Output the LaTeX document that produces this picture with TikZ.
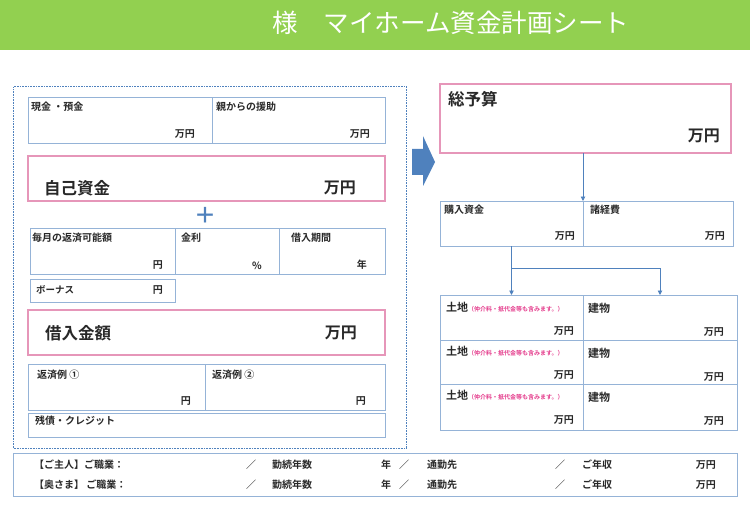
\documentclass[tikz,border=0pt]{standalone}
\usepackage{fontspec}
\usepackage{xcolor}
\usepackage{tikz}
\usetikzlibrary{arrows.meta,positioning,calc}
\setmainfont{Noto Sans CJK JP}[BoldFont={Noto Sans CJK JP Bold}]

\definecolor{hdrgreen}{RGB}{146,208,80}
\definecolor{cellblue}{RGB}{149,179,215}
\definecolor{boxpink}{RGB}{230,150,185}
\definecolor{arrblue}{RGB}{79,129,189}
\definecolor{notepink}{RGB}{228,60,140}
\definecolor{txtgray}{RGB}{40,40,40}

\tikzset{
  cell/.style={draw=cellblue, line width=0.8pt, anchor=north west, inner sep=0pt, outer sep=0pt},
  pinkbox/.style={draw=boxpink, line width=1.6pt, anchor=north west, inner sep=0pt, outer sep=0pt},
  dotbox/.style={draw=arrblue, line width=1.1pt, dash pattern=on 0.8pt off 0.8pt, anchor=north west, inner sep=0pt},
  lbl/.style={anchor=west, inner sep=0pt, text=txtgray, font=\bfseries\fontsize{10}{12}\selectfont},
  unit/.style={anchor=east, inner sep=0pt, text=txtgray, font=\bfseries\fontsize{10}{12}\selectfont},
  biglbl/.style={anchor=west, inner sep=0pt, text=txtgray, font=\bfseries\fontsize{16.5}{19}\selectfont},
  bigunit/.style={anchor=east, inner sep=0pt, text=txtgray, font=\bfseries\fontsize{16}{19}\selectfont},
  midlbl/.style={anchor=west, inner sep=0pt, text=txtgray, font=\bfseries\fontsize{11}{13}\selectfont},
  conn/.style={draw=arrblue, line width=0.9pt, -{Triangle[length=4.5pt,width=4.5pt]}}
}

\begin{document}
\begin{tikzpicture}[x=1pt,y=-1pt]
\useasboundingbox (0,0) rectangle (750,516);
%% header
\node[fill=hdrgreen, anchor=north west, minimum width=750pt, minimum height=50pt, inner sep=0pt] (hdr) at (0,0) {};
\node[text=white, font=\fontsize{25.5}{28}\selectfont] (title) at (451,23) {様　マイホーム資金計画シート};
%% own funds
\node[dotbox, minimum width=393pt, minimum height=362pt] (left) at (13,86) {};
\node[cell, minimum width=184pt, minimum height=46pt] (cash) at (28,97) {};
\node[cell, minimum width=173pt, minimum height=46pt] (help) at (212,97) {};
\node[lbl] (cashL) at (31,107) {現金 ・預金};
\node[unit] (cashU) at (195,134) {万円};
\node[lbl] (helpL) at (216,107) {親からの援助};
\node[unit] (helpU) at (370,134) {万円};
%%
\node[pinkbox, minimum width=357pt, minimum height=45pt] (own) at (28,156) {};
\node[biglbl] (ownL) at (44,188) {自己資金};
\node[bigunit] (ownU) at (356,188) {万円};
%%
\node[text=arrblue, font=\bfseries\fontsize{22}{23}\selectfont, inner sep=0pt] (plus) at (205,215) {＋};
%% loan
\node[cell, minimum width=145pt, minimum height=46pt] (month) at (30,228) {};
\node[cell, minimum width=104pt, minimum height=46pt] (rate) at (175,228) {};
\node[cell, minimum width=106pt, minimum height=46pt] (term) at (279,228) {};
\node[lbl] (monthL) at (32,238) {毎月の返済可能額};
\node[unit] (monthU) at (163,265) {円};
\node[lbl] (rateL) at (181,238) {金利};
\node[unit] (rateU) at (262,266) {\%};
\node[lbl] (termL) at (291,238) {借入期間};
\node[unit] (termU) at (367,265) {年};
%%
\node[cell, minimum width=145pt, minimum height=23pt] (bonus) at (30,279) {};
\node[lbl, font=\bfseries\fontsize{9.5}{11}\selectfont] (bonusL) at (36,290) {ボーナス};
\node[unit] (bonusU) at (163,290) {円};
%%
\node[pinkbox, minimum width=357pt, minimum height=45pt] (loan) at (28,310) {};
\node[biglbl] (loanL) at (45,333) {借入金額};
\node[bigunit] (loanU) at (357,333) {万円};
%%
\node[cell, minimum width=177pt, minimum height=46pt] (exA) at (28,364) {};
\node[cell, minimum width=180pt, minimum height=46pt] (exB) at (205,364) {};
\node[lbl] (exAL) at (37,375) {返済例 ①};
\node[unit] (exAU) at (191,401) {円};
\node[lbl] (exBL) at (212,375) {返済例 ②};
\node[unit] (exBU) at (366,401) {円};
\node[cell, minimum width=357pt, minimum height=24pt] (debt) at (28,413) {};
\node[lbl] (debtL) at (35,421) {残債・クレジット};
%% arrow
\fill[arrblue] (412,149) -- (423,149) -- (423,136) -- (435,162) -- (423,186) -- (423,175) -- (412,175) -- cycle;
%% budget
\node[pinkbox, minimum width=291pt, minimum height=69pt] (total) at (440,84) {};
\node[biglbl] (totalL) at (448,99) {総予算};
\node[bigunit] (totalU) at (720,136) {万円};
%%
\node[cell, minimum width=143pt, minimum height=45pt] (buy) at (440,201) {};
\node[cell, minimum width=150pt, minimum height=45pt] (fees) at (583,201) {};
\node[lbl] (buyL) at (444,210) {購入資金};
\node[unit] (buyU) at (575,236) {万円};
\node[lbl] (feesL) at (590,210) {諸経費};
\node[unit] (feesU) at (725,236) {万円};
%%
\node[cell, minimum width=143pt, minimum height=45pt] (land1) at (440,295) {};
\node[cell, minimum width=154pt, minimum height=45pt] (bldg1) at (583,295) {};
\node[cell, minimum width=143pt, minimum height=44pt] (land2) at (440,340) {};
\node[cell, minimum width=154pt, minimum height=44pt] (bldg2) at (583,340) {};
\node[cell, minimum width=143pt, minimum height=46pt] (land3) at (440,384) {};
\node[cell, minimum width=154pt, minimum height=46pt] (bldg3) at (583,384) {};
%%
\node[midlbl] (land1L) at (446,307) {土地{\color{notepink}\fontsize{6}{7}\selectfont（仲介料・抵代金等も含みます。）}};
\node[unit] (land1U) at (574,331) {万円};
\node[midlbl] (bldg1L) at (588,308) {建物};
\node[unit] (bldg1U) at (724,332) {万円};
\node[midlbl] (land2L) at (446,351) {土地{\color{notepink}\fontsize{6}{7}\selectfont（仲介料・抵代金等も含みます。）}};
\node[unit] (land2U) at (574,375) {万円};
\node[midlbl] (bldg2L) at (588,353) {建物};
\node[unit] (bldg2U) at (724,377) {万円};
\node[midlbl] (land3L) at (446,395) {土地{\color{notepink}\fontsize{6}{7}\selectfont（仲介料・抵代金等も含みます。）}};
\node[unit] (land3U) at (574,420) {万円};
\node[midlbl] (bldg3L) at (588,397) {建物};
\node[unit] (bldg3U) at (724,421) {万円};
%% connectors
\draw[conn] (buy.north east |- total.south) -- (buy.north east);
\coordinate (split) at (buy.south |- 0,268);
\draw[conn] (buy.south) -- (land1.north);
\draw[conn] (split) -| (bldg1.north);
%% work
\node[cell, minimum width=724pt, minimum height=43pt] (work) at (13,453) {};
\node[lbl] (hA) at (34,465) {【ご主人】ご職業：};
\node[lbl] (hB) at (246,465) {／};
\node[lbl] (hC) at (272,465) {勤続年数};
\node[lbl] (hD) at (381,465) {年};
\node[lbl] (hE) at (399,465) {／};
\node[lbl] (hF) at (427,465) {通勤先};
\node[lbl] (hG) at (555,465) {／};
\node[lbl] (hH) at (582,465) {ご年収};
\node[unit] (hI) at (716,465) {万円};
\node[lbl] (wA) at (34,485) {【奥さま】 ご職業：};
\node[lbl] (wB) at (246,485) {／};
\node[lbl] (wC) at (272,485) {勤続年数};
\node[lbl] (wD) at (381,485) {年};
\node[lbl] (wE) at (399,485) {／};
\node[lbl] (wF) at (427,485) {通勤先};
\node[lbl] (wG) at (555,485) {／};
\node[lbl] (wH) at (582,485) {ご年収};
\node[unit] (wI) at (716,485) {万円};
\end{tikzpicture}
\end{document}
